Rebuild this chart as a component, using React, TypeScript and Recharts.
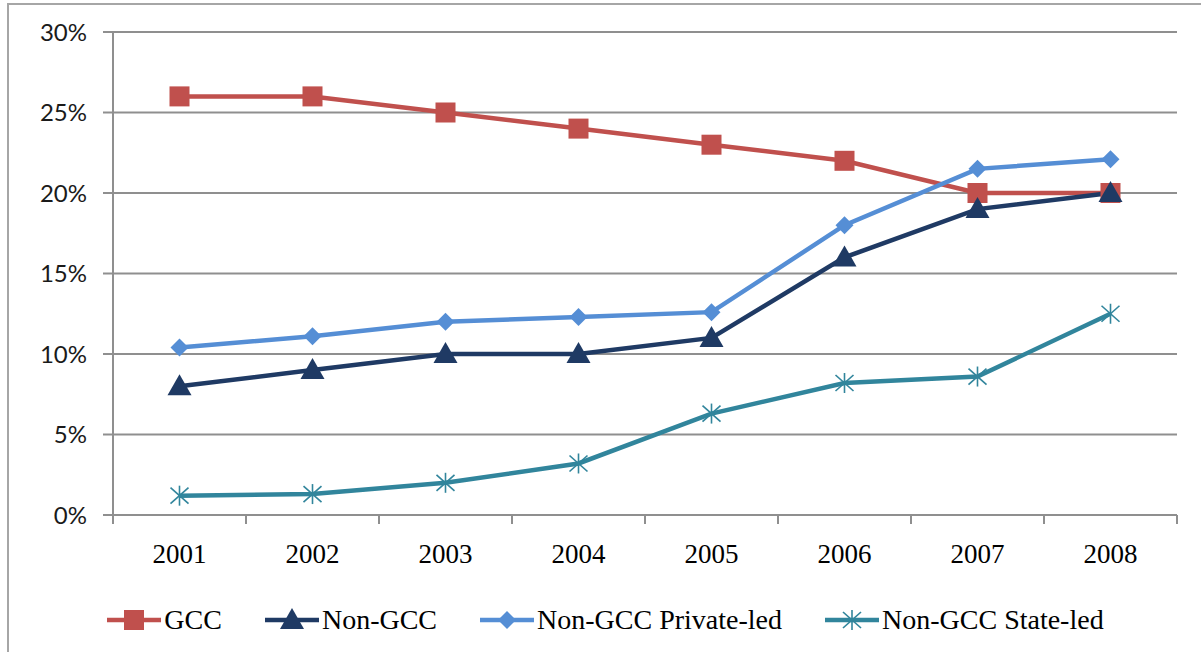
import { LineChart, Line, XAxis, YAxis, CartesianGrid, Legend } from "recharts";

// values (percent)
const years = ["2001", "2002", "2003", "2004", "2005", "2006", "2007", "2008"];
const gcc = [26, 26, 25, 24, 23, 22, 20, 20];
const nonGcc = [8, 9, 10, 10, 11, 16, 19, 20];
const privateLed = [10.4, 11.1, 12.0, 12.3, 12.6, 18.0, 21.5, 22.1];
const stateLed = [1.2, 1.3, 2.0, 3.2, 6.3, 8.2, 8.6, 12.5];
const yTicks = [0, 5, 10, 15, 20, 25, 30];

const data = years.map((year, i) => ({
  year,
  gcc: gcc[i],
  nonGcc: nonGcc[i],
  privateLed: privateLed[i],
  stateLed: stateLed[i],
}));

const W = 1201;
const H = 652;
const Y_AXIS_W = 113;
const X_AXIS_H = 30;
const LEGEND_H = 32;
// plot box: x 113..1177, y 32..515
const M = { top: 32, right: 24, bottom: 137 - X_AXIS_H - LEGEND_H, left: 0 };
const HALF_BAND = (W - Y_AXIS_W - M.right) / years.length / 2;

const GRID = "#8f8f8f";
const SERIF = "'Liberation Serif', 'Times New Roman', serif";

const COLORS = {
  gcc: "#c0504d",
  nonGcc: "#1f3a64",
  privateLed: "#558ed5",
  stateLed: "#31859c",
};

type Shape = "square" | "triangle" | "diamond" | "star";

const Marker = ({ shape, cx, cy, color }: { shape: Shape; cx: number; cy: number; color: string }) => {
  if (shape === "square") {
    return <rect x={cx - 10} y={cy - 10} width={20} height={20} fill={color} />;
  }
  if (shape === "triangle") {
    return (
      <polygon
        points={`${cx},${cy - 12} ${cx + 12},${cy + 9} ${cx - 12},${cy + 9}`}
        fill={color}
      />
    );
  }
  if (shape === "diamond") {
    return (
      <polygon
        points={`${cx},${cy - 9} ${cx + 9},${cy} ${cx},${cy + 9} ${cx - 9},${cy}`}
        fill={color}
      />
    );
  }
  return (
    <g stroke={color} strokeWidth={1.6}>
      <line x1={cx} y1={cy - 10} x2={cx} y2={cy + 10} />
      <line x1={cx - 9} y1={cy - 8} x2={cx + 9} y2={cy + 8} />
      <line x1={cx - 9} y1={cy + 8} x2={cx + 9} y2={cy - 8} />
    </g>
  );
};

const dotFor = (shape: Shape, color: string) => (props: any) => (
  <Marker key={`${shape}-${props.index}`} shape={shape} cx={props.cx} cy={props.cy} color={color} />
);

const XTick = (props: any) => {
  const { x, y, payload, index } = props;
  return (
    <g>
      <line x1={x - HALF_BAND} y1={y} x2={x - HALF_BAND} y2={y + 9} stroke={GRID} strokeWidth={2} />
      {index === years.length - 1 && (
        <line x1={x + HALF_BAND} y1={y} x2={x + HALF_BAND} y2={y + 9} stroke={GRID} strokeWidth={2} />
      )}
      <text x={x} y={y + 48} textAnchor="middle" fontFamily={SERIF} fontSize={27} fill="#000">
        {payload.value}
      </text>
    </g>
  );
};

const legendItems: { label: string; shape: Shape; color: string }[] = [
  { label: "GCC", shape: "square", color: COLORS.gcc },
  { label: "Non-GCC", shape: "triangle", color: COLORS.nonGcc },
  { label: "Non-GCC Private-led", shape: "diamond", color: COLORS.privateLed },
  { label: "Non-GCC State-led", shape: "star", color: COLORS.stateLed },
];

const LegendContent = () => (
  <div
    style={{
      display: "flex",
      justifyContent: "center",
      alignItems: "center",
      gap: 43,
      paddingLeft: 10,
      height: LEGEND_H,
      fontFamily: SERIF,
      fontSize: 28,
      color: "#000",
    }}
  >
    {legendItems.map((item) => (
      <div key={item.label} style={{ display: "flex", alignItems: "center", gap: 3 }}>
        <svg width={54} height={26}>
          <line x1={0} y1={13} x2={54} y2={13} stroke={item.color} strokeWidth={4.5} />
          <Marker shape={item.shape} cx={27} cy={13} color={item.color} />
        </svg>
        <span>{item.label}</span>
      </div>
    ))}
  </div>
);

export default function App() {
  return (
    <div style={{ position: "absolute", left: 0, top: 0, width: W, height: H, overflow: "hidden", background: "#fff" }}>
      <div
        style={{
          position: "absolute",
          left: 7,
          top: 3,
          width: W + 20,
          height: H + 20,
          borderLeft: "2px solid #a6a6a6",
          borderTop: "2px solid #a6a6a6",
        }}
      />
      <LineChart width={W} height={H} data={data} margin={M}>
        <CartesianGrid vertical={false} stroke={GRID} strokeWidth={2} />
        <XAxis
          dataKey="year"
          height={X_AXIS_H}
          padding={{ left: HALF_BAND, right: HALF_BAND }}
          axisLine={{ stroke: GRID, strokeWidth: 2 }}
          tickLine={false}
          tickSize={0}
          tickMargin={0}
          tick={<XTick />}
          interval={0}
        />
        <YAxis
          width={Y_AXIS_W}
          domain={[0, 30]}
          ticks={yTicks}
          interval={0}
          tickFormatter={(v) => `${v}%`}
          axisLine={{ stroke: GRID, strokeWidth: 2 }}
          tickLine={{ stroke: GRID, strokeWidth: 2 }}
          tickSize={10}
          tickMargin={16}
          tick={{ fontFamily: "Lato, 'Open Sans', sans-serif", fontSize: 24, fill: "#1a1a1a" }}
        />
        <Legend
          content={<LegendContent />}
          wrapperStyle={{ position: "absolute", left: 0, top: 604, width: W, height: LEGEND_H }}
        />
        <Line
          dataKey="gcc"
          name="GCC"
          type="linear"
          stroke={COLORS.gcc}
          strokeWidth={4.5}
          dot={dotFor("square", COLORS.gcc)}
          activeDot={false}
          isAnimationActive={false}
        />
        <Line
          dataKey="nonGcc"
          name="Non-GCC"
          type="linear"
          stroke={COLORS.nonGcc}
          strokeWidth={4.5}
          dot={dotFor("triangle", COLORS.nonGcc)}
          activeDot={false}
          isAnimationActive={false}
        />
        <Line
          dataKey="privateLed"
          name="Non-GCC Private-led"
          type="linear"
          stroke={COLORS.privateLed}
          strokeWidth={4.5}
          dot={dotFor("diamond", COLORS.privateLed)}
          activeDot={false}
          isAnimationActive={false}
        />
        <Line
          dataKey="stateLed"
          name="Non-GCC State-led"
          type="linear"
          stroke={COLORS.stateLed}
          strokeWidth={4.5}
          dot={dotFor("star", COLORS.stateLed)}
          activeDot={false}
          isAnimationActive={false}
        />
      </LineChart>
    </div>
  );
}
